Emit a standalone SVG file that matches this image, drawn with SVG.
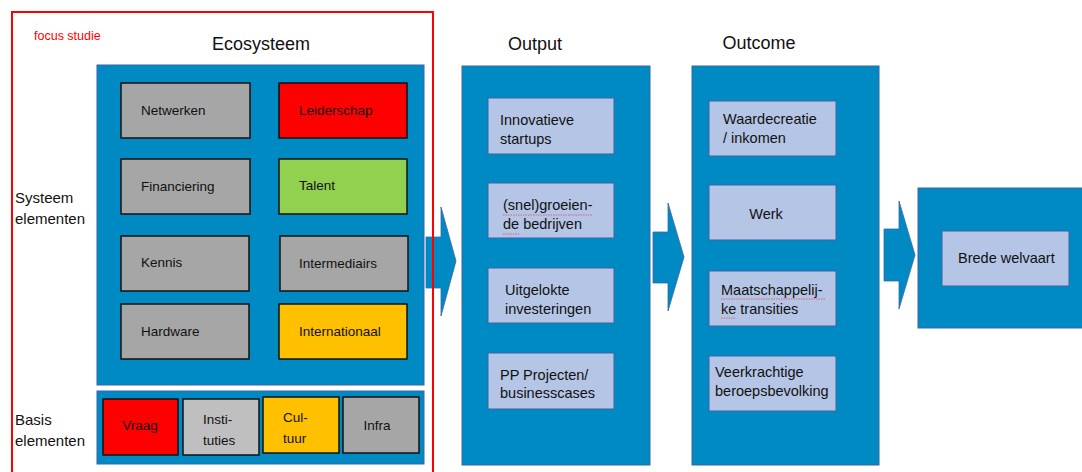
<svg xmlns="http://www.w3.org/2000/svg" width="1082" height="472" viewBox="0 0 1082 472">
  <style>
    text { font-family: "Liberation Sans", Arial, sans-serif; fill: #111; }
    .panel { fill: #008AC3; stroke: #3D63A6; stroke-width: 1; }
    .el { stroke: #111; stroke-width: 1.5; }
    .grey { fill: #A6A6A6; }
    .lgrey { fill: #BFBFBF; }
    .red { fill: #FF0000; }
    .green { fill: #92D050; }
    .amber { fill: #FFC000; }
    .res { fill: #B4C5E6; stroke: #3D63A6; stroke-width: 1; }
    .arrow { fill: #008AC3; stroke: #3D63A6; stroke-width: 0.8; }
    .h { font-size: 18px; }
    .side { font-size: 15px; }
    .eco { font-size: 13.5px; }
    .out { font-size: 14.5px; }
    .squig { fill: none; stroke: #E05050; stroke-width: 0.8; stroke-dasharray: 1.5 1; }
  </style>

  <!-- headings -->
  <text class="h" x="261" y="50" text-anchor="middle">Ecosysteem</text>
  <text class="h" x="535" y="50" text-anchor="middle">Output</text>
  <text class="h" x="759" y="49" text-anchor="middle">Outcome</text>

  <!-- row labels -->
  <text class="side" x="15" y="203">Systeem</text>
  <text class="side" x="15" y="224">elementen</text>
  <text class="side" x="15" y="425">Basis</text>
  <text class="side" x="15" y="446">elementen</text>

  <!-- connectors: block arrows between stages -->
  <g id="connectors">
    <path class="arrow" d="M426,237 L441,237 L441,207 L456,261 L441,316 L441,288 L426,288 Z"/>
    <path class="arrow" d="M653,232 L668,232 L668,203 L684,257 L668,311 L668,283 L653,283 Z"/>
    <path class="arrow" d="M884,229 L899,229 L899,201 L915,255 L899,309 L899,281 L884,281 Z"/>
  </g>

  <!-- ecosystem: system elements -->
  <g id="systeem-elementen">
    <rect class="panel" x="97" y="65" width="327" height="320"/>
    <g id="netwerken"><rect class="el grey" x="121" y="83" width="129" height="55"/><text class="eco" x="141" y="115">Netwerken</text></g>
    <g id="leiderschap"><rect class="el red" x="279" y="83" width="128" height="55"/><text class="eco" x="299" y="115">Leiderschap</text></g>
    <g id="financiering"><rect class="el grey" x="121" y="159" width="129" height="55"/><text class="eco" x="141" y="191">Financiering</text></g>
    <g id="talent"><rect class="el green" x="279" y="159" width="128" height="55"/><text class="eco" x="299" y="190">Talent</text></g>
    <g id="kennis"><rect class="el grey" x="121" y="236" width="128" height="55"/><text class="eco" x="141" y="267">Kennis</text></g>
    <g id="intermediairs"><rect class="el grey" x="280" y="236" width="128" height="55"/><text class="eco" x="299" y="268">Intermediairs</text></g>
    <g id="hardware"><rect class="el grey" x="121" y="304" width="128" height="55"/><text class="eco" x="141" y="336">Hardware</text></g>
    <g id="internationaal"><rect class="el amber" x="279" y="304" width="128" height="55"/><text class="eco" x="299" y="336">Internationaal</text></g>
  </g>

  <!-- ecosystem: base elements -->
  <g id="basis-elementen">
    <rect class="panel" x="97" y="391" width="327" height="73"/>
    <g id="vraag"><rect class="el red" x="103" y="399" width="75" height="56"/><text class="eco" x="140" y="430" text-anchor="middle">Vraag</text></g>
    <g id="instituties"><rect class="el lgrey" x="183" y="399" width="76" height="56"/><text class="eco" x="203" y="424">Insti-</text><text class="eco" x="203" y="445">tuties</text></g>
    <g id="cultuur"><rect class="el amber" x="263" y="397" width="76" height="56"/><text class="eco" x="283" y="422">Cul-</text><text class="eco" x="283" y="443">tuur</text></g>
    <g id="infra"><rect class="el grey" x="343" y="397" width="76" height="56"/><text class="eco" x="377" y="430" text-anchor="middle">Infra</text></g>
  </g>

  <!-- output column -->
  <g id="output">
    <rect class="panel" x="462" y="66" width="188" height="399"/>
    <g id="startups"><rect class="res" x="488" y="98" width="126" height="56"/><text class="out" x="500" y="125">Innovatieve</text><text class="out" x="500" y="144">startups</text></g>
    <g id="groeiende-bedrijven"><rect class="res" x="488" y="183" width="126" height="55"/><text class="out" x="503" y="210">(snel)groeien-</text><text class="out" x="503" y="229">de bedrijven</text>
      <path class="squig" d="M503,215 L592,215 M503,234 L519,234"/></g>
    <g id="investeringen"><rect class="res" x="488" y="268" width="126" height="55"/><text class="out" x="505" y="295">Uitgelokte</text><text class="out" x="505" y="314">investeringen</text></g>
    <g id="projecten"><rect class="res" x="488" y="353" width="126" height="56"/><text class="out" x="500" y="380">PP Projecten/</text><text class="out" x="500" y="398">businesscases</text></g>
  </g>

  <!-- outcome column -->
  <g id="outcome">
    <rect class="panel" x="692" y="66" width="187" height="399"/>
    <g id="waardecreatie"><rect class="res" x="709" y="101" width="127" height="55"/><text class="out" x="723" y="124">Waardecreatie</text><text class="out" x="723" y="143">/ inkomen</text></g>
    <g id="werk"><rect class="res" x="709" y="185" width="127" height="55"/><text class="out" x="766" y="219" text-anchor="middle">Werk</text></g>
    <g id="transities"><rect class="res" x="709" y="271" width="127" height="55"/><text class="out" x="721" y="295">Maatschappelij-</text><text class="out" x="721" y="314">ke transities</text>
      <path class="squig" d="M721,299 L825,299 M721,318 L735,318"/></g>
    <g id="beroepsbevolking"><rect class="res" x="709" y="356" width="127" height="55"/><text class="out" x="715" y="377">Veerkrachtige</text><text class="out" x="715" y="396">beroepsbevolking</text></g>
  </g>

  <!-- broad welfare -->
  <g id="brede-welvaart">
    <rect class="panel" x="918" y="188" width="170" height="140"/>
    <rect class="res" x="942" y="231" width="127" height="55"/>
    <text class="out" x="958" y="263">Brede welvaart</text>
  </g>

  <!-- focus frame -->
  <g id="focus-studie">
    <rect x="12" y="12" width="421" height="470" fill="none" stroke="#FF0000" stroke-width="2"/>
    <text x="34" y="40" font-size="12.5" style="fill:#FF0000">focus studie</text>
  </g>
</svg>
